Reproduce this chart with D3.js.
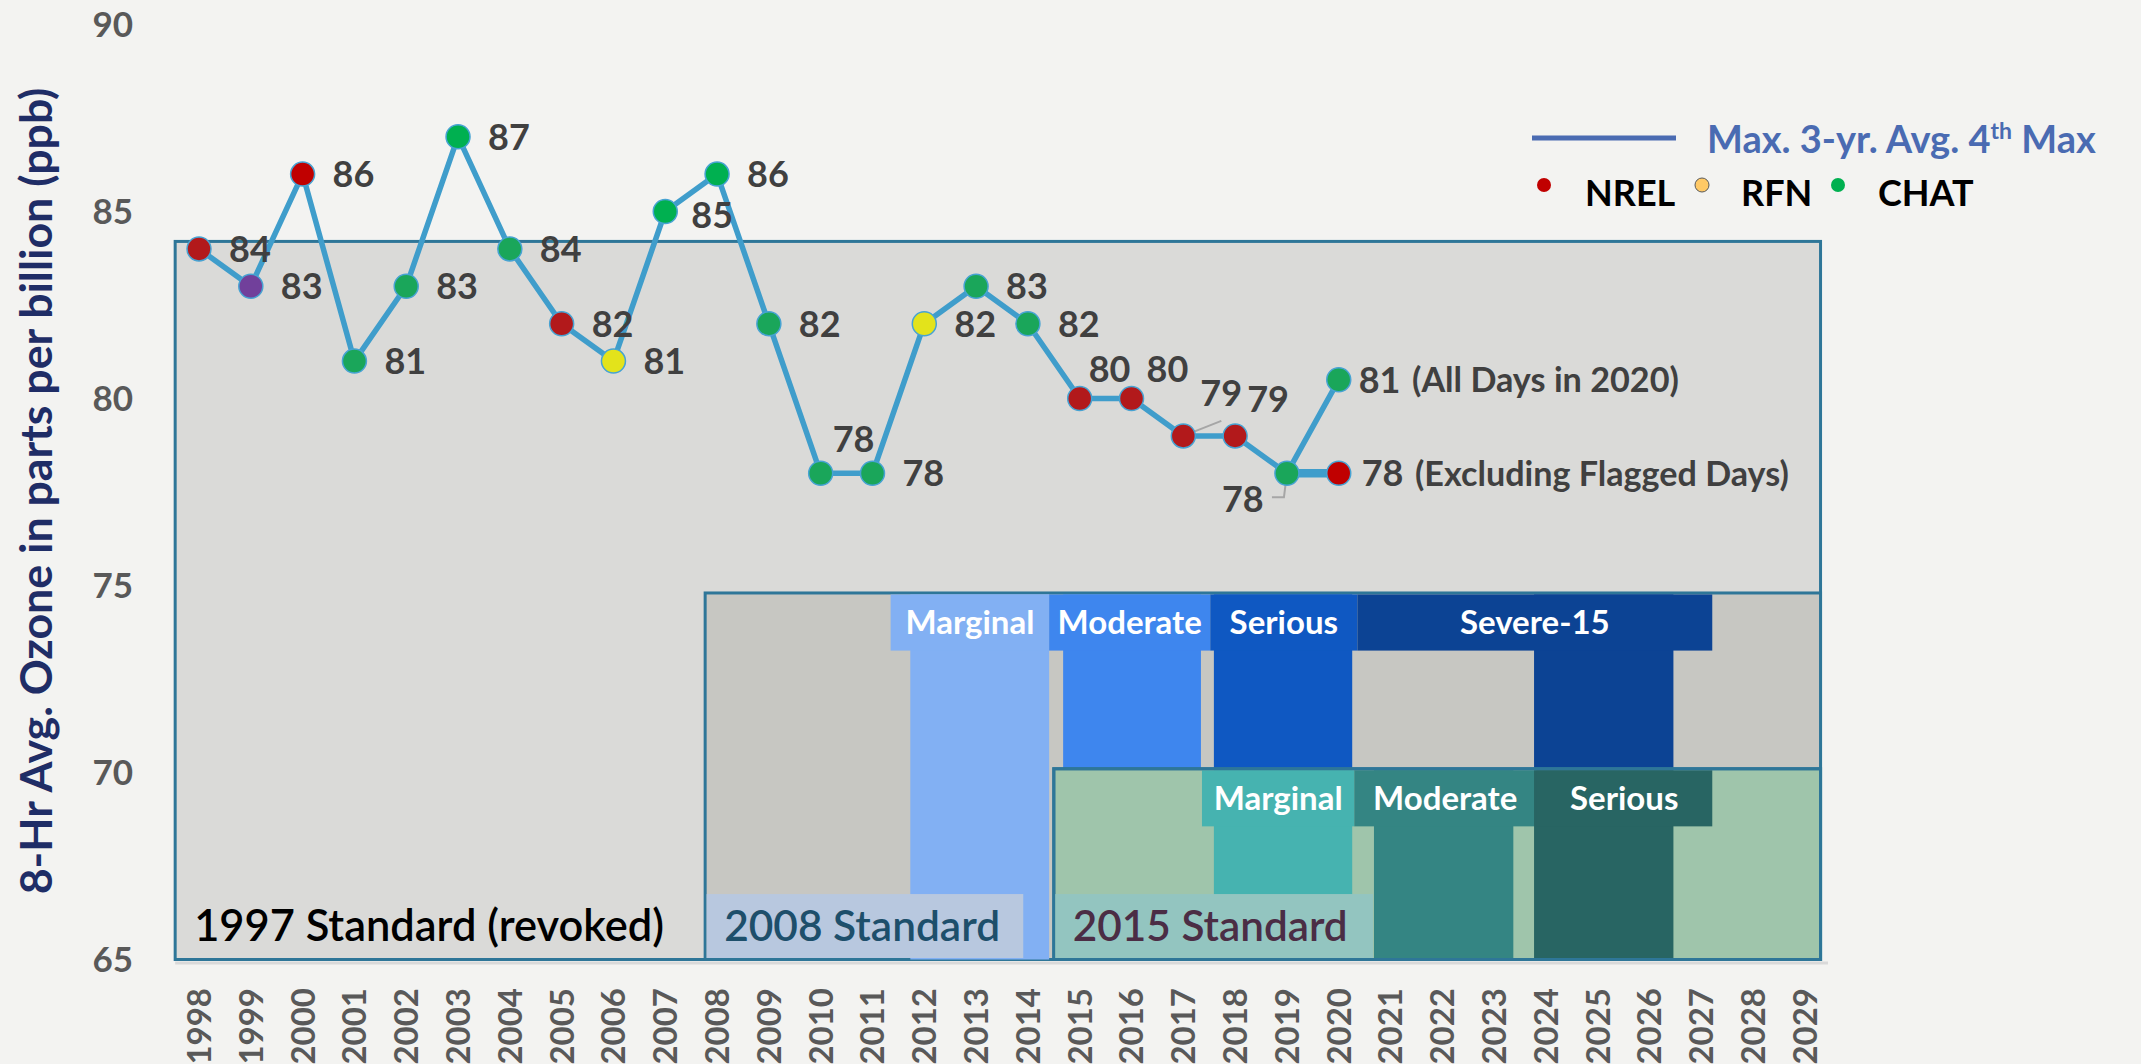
<!DOCTYPE html>
<html>
<head>
<meta charset="utf-8">
<script src="https://cdn.jsdelivr.net/npm/d3@7"></script>
<style>
  html, body { margin: 0; padding: 0; background: #f3f3f1; }
  svg { display: block; font-family: Lato, "Open Sans", sans-serif; }
</style>
</head>
<body>
<svg id="chart"></svg>
<script>
// years on the x axis
const years = [1998, 1999, 2000, 2001, 2002, 2003, 2004, 2005, 2006, 2007, 2008, 2009, 2010,
    2011, 2012, 2013, 2014, 2015, 2016, 2017, 2018, 2019, 2020, 2021, 2022, 2023, 2024, 2025,
    2026, 2027, 2028, 2029];
const yTicks = [65, 70, 75, 80, 85, 90];

// design values (max 3-yr avg of 4th max), ppb
const ozoneYears = [1998, 1999, 2000, 2001, 2002, 2003, 2004, 2005, 2006, 2007, 2008, 2009,
    2010, 2011, 2012, 2013, 2014, 2015, 2016, 2017, 2018, 2019, 2020];
const ozone = [84, 83, 86, 81, 83, 87, 84, 82, 81, 85, 86, 82, 78, 78, 82, 83, 82, 80, 80, 79, 79, 78, 80.5];
const ozoneLabels = ["84", "83", "86", "81", "83", "87", "84", "82", "81", "85", "86", "82", "78",
    "78", "82", "83", "82", "80", "80", "79", "79", "78", "81"];
const monitor = ["NREL", "Other", "NREL", "CHAT", "CHAT", "CHAT", "CHAT", "NREL", "RFN", "CHAT",
    "CHAT", "CHAT", "CHAT", "CHAT", "RFN", "CHAT", "CHAT", "NREL", "NREL", "NREL", "NREL", "CHAT", "CHAT"];

// 2020 excluding flagged days
const flaggedYear = 2020;
const flaggedValue = 78;
const flaggedMonitor = "NREL";
const allDaysNote = "(All Days in 2020)";
const flaggedNote = "(Excluding Flagged Days)";

// standards: name, level (ppb), first year in effect (fractional, as drawn)
const standardNames = ["1997 Standard (revoked)", "2008 Standard", "2015 Standard"];
const standardLevels = [84.2, 74.8, 70.1];
const standardStart = [1997.54, 2007.77, 2014.5];
const standardEnd = 2029.3;
const standardLabelEnd = [null, 2013.91, 2020.66];

// nonattainment classifications
const classes2008 = ["Marginal", "Moderate", "Serious", "Severe-15"];
const head2008 = [[2011.35, 2014.41], [2014.41, 2017.52], [2017.52, 2020.36], [2020.36, 2027.21]];
const body2008 = [[2011.73, 2014.41], [2014.68, 2017.34], [2017.59, 2020.26], [2023.77, 2026.46]];
const classes2015 = ["Marginal", "Moderate", "Serious"];
const head2015 = [[2017.36, 2020.3], [2020.3, 2023.81], [2023.81, 2027.21]];
const body2015 = [[2017.59, 2020.26], [2020.68, 2023.37], [2023.77, 2026.46]];

const legendSites = ["NREL", "RFN", "CHAT"];

const width = 2141;
const height = 1064;
const border = "#2e7698";
const siteColor = {NREL: "#b2191b", RFN: "#e3e31b", CHAT: "#1aa65a", Other: "#71409b"};
const legendColor = {NREL: "#c00000", RFN: "#ffc966", CHAT: "#00b050"};
const colors2008 = ["#82b0f3", "#3e86ee", "#0f58c2", "#0c4394"];
const colors2015 = ["#46b3b0", "#348583", "#286563"];

const svg = d3.select("#chart")
    .attr("width", width)
    .attr("height", height)
    .style("background", "#f3f3f1");

const x = d3.scalePoint().domain(years).range([199, 1805]);
const xf = yr => x(years[0]) + (yr - years[0]) * x.step();
const y = d3.scaleLinear().domain([65, 90]).range([959.5, 24.5]);

function fitWidth(sel, w) {
    sel.each(function() {
        const len = this.getComputedTextLength();
        const fs = parseFloat(getComputedStyle(this).fontSize);
        d3.select(this).style("font-size", (fs * w / len) + "px");
    });
}

// ---- standard boxes ----
const gStd = svg.append("g");
const stdFill = ["#dadad8", "#c7c7c2", "#9fc5ab"];

function drawBox(i) {
    gStd.append("rect")
        .attr("x", xf(standardStart[i]))
        .attr("y", y(standardLevels[i]))
        .attr("width", xf(standardEnd) - xf(standardStart[i]))
        .attr("height", y(65) - y(standardLevels[i]))
        .attr("fill", stdFill[i])
        .attr("stroke", border)
        .attr("stroke-width", 3);
}

function drawClasses(names, heads, bodies, colors, level, bottomFor) {
    const hh = y(level - 1.5) - y(level);
    names.forEach((name, i) => {
        gStd.append("rect")
            .attr("x", xf(bodies[i][0]))
            .attr("y", y(level) + 1.5)
            .attr("width", xf(bodies[i][1]) - xf(bodies[i][0]))
            .attr("height", y(bottomFor(bodies[i])) - y(level) - 1.5)
            .attr("fill", colors[i]);
        gStd.append("rect")
            .attr("x", xf(heads[i][0]))
            .attr("y", y(level) + 1.5)
            .attr("width", xf(heads[i][1]) - xf(heads[i][0]))
            .attr("height", hh)
            .attr("fill", colors[i]);
        gStd.append("text")
            .attr("x", (xf(heads[i][0]) + xf(heads[i][1])) / 2)
            .attr("y", y(level) + 1.5 + hh / 2)
            .attr("dy", "0.36em")
            .attr("text-anchor", "middle")
            .attr("fill", "white")
            .style("font-size", "33px")
            .style("font-weight", 700)
            .text(name);
    });
}

drawBox(0);
drawBox(1);
drawClasses(classes2008, head2008, body2008, colors2008, standardLevels[1],
    b => b[1] <= standardStart[2] ? 65 : standardLevels[2]);
drawBox(2);
drawClasses(classes2015, head2015, body2015, colors2015, standardLevels[2], () => 65);

// redraw 2015 box border on top of its bars
gStd.append("rect")
    .attr("x", xf(standardStart[2]))
    .attr("y", y(standardLevels[2]))
    .attr("width", xf(standardEnd) - xf(standardStart[2]))
    .attr("height", y(65) - y(standardLevels[2]))
    .attr("fill", "none")
    .attr("stroke", border)
    .attr("stroke-width", 3);

// standard name labels
const labelBg = [null, "#b8c8df", "#93c5c0"];
const labelInk = ["#000000", "#1d4f6b", "#4b2d45"];
const labelWidth = [470, 276, 275];
standardNames.forEach((name, i) => {
    if (labelBg[i]) {
        gStd.append("rect")
            .attr("x", xf(standardStart[i]) + 1.5)
            .attr("y", y(66.75))
            .attr("width", xf(standardLabelEnd[i]) - xf(standardStart[i]) - 1.5)
            .attr("height", y(65) - y(66.75) - 1.5)
            .attr("fill", labelBg[i]);
    }
    gStd.append("text")
        .attr("x", xf(standardStart[i]) + 19)
        .attr("y", 941)
        .attr("fill", labelInk[i])
        .style("font-size", "38px")
        .style("font-weight", 600)
        .text(name)
        .call(fitWidth, labelWidth[i]);
});

// axis base line
svg.append("line")
    .attr("x1", xf(standardStart[0])).attr("x2", 1828)
    .attr("y1", 963).attr("y2", 963)
    .attr("stroke", "#d9d9d9")
    .attr("stroke-width", 3);

// ---- axes ----
svg.append("g").selectAll("text")
    .data(yTicks)
    .join("text")
    .attr("x", 133)
    .attr("y", d => y(d))
    .attr("dy", "0.36em")
    .attr("text-anchor", "end")
    .attr("fill", "#595959")
    .style("font-size", "35px")
    .style("font-weight", 700)
    .text(d => d);

svg.append("g").selectAll("text")
    .data(years)
    .join("text")
    .attr("transform", d => `translate(${x(d)},988) rotate(-90)`)
    .attr("dy", "0.36em")
    .attr("text-anchor", "end")
    .attr("fill", "#595959")
    .style("font-size", "33px")
    .style("font-weight", 700)
    .text(d => d);

svg.append("text")
    .attr("transform", "translate(52,491) rotate(-90)")
    .attr("text-anchor", "middle")
    .attr("fill", "#1f2d66")
    .style("font-size", "38px")
    .style("font-weight", 700)
    .text("8-Hr Avg. Ozone in parts per billion (ppb)")
    .call(fitWidth, 807);

// ---- series ----
const series = ozoneYears.map((yr, i) => ({year: yr, value: ozone[i], label: ozoneLabels[i], site: monitor[i]}));
const flagged = {year: flaggedYear, value: flaggedValue, label: String(flaggedValue), site: flaggedMonitor};
const prev = series[series.length - 2];

const gLine = svg.append("g")
    .attr("fill", "none")
    .attr("stroke", "#3f9dcb")
    .attr("stroke-linejoin", "round");

gLine.append("path")
    .attr("stroke-width", 5.5)
    .attr("d", d3.line().x(d => x(d.year)).y(d => y(d.value))(series));

gLine.append("path")
    .attr("stroke-width", 8.5)
    .attr("d", d3.line().x(d => x(d.year)).y(d => y(d.value))([prev, flagged]));

// leader lines for crowded labels
const leaders = {2017: [[0, 0], [38, -15]], 2019: [[0, 0], [-3, 24], [-15, 24]]};
Object.keys(leaders).forEach(yr => {
    const d = series.find(s => s.year === +yr);
    svg.append("path")
        .attr("fill", "none")
        .attr("stroke", "#a6a6a6")
        .attr("stroke-width", 2)
        .attr("d", d3.line()(leaders[yr].map(p => [x(d.year) + p[0], y(d.value) + p[1]])));
});

const pointColor = d => {
    if (d.site === "NREL" && d.year === 2000) return "#c00000";
    if (d.site === "CHAT" && [2003, 2007, 2008].includes(d.year)) return "#00b050";
    return siteColor[d.site];
};

svg.append("g").selectAll("circle")
    .data(series.concat([flagged]))
    .join("circle")
    .attr("cx", d => x(d.year))
    .attr("cy", d => y(d.value))
    .attr("r", 12)
    .attr("fill", d => d === flagged ? "#c00000" : pointColor(d))
    .attr("stroke", "#47a3d3")
    .attr("stroke-width", 1.5);

// data labels: default to the right, a few moved to avoid overlaps
const labelOffset = {
    2007: [26, 4], 2010: [12, -34], 2015: [9, -29], 2016: [15, -29],
    2017: [17, -43], 2018: [12, -37], 2019: [-65, 26], 2020: [20, 0]
};
const gLab = svg.append("g")
    .attr("fill", "#404040")
    .style("font-size", "36px")
    .style("font-weight", 700);

series.forEach(d => {
    const off = labelOffset[d.year] || [30, 0];
    gLab.append("text")
        .attr("x", x(d.year) + off[0])
        .attr("y", y(d.value) + off[1])
        .attr("dy", "0.36em")
        .text(d.label);
});
gLab.append("text")
    .attr("x", x(flagged.year) + 23)
    .attr("y", y(flagged.value))
    .attr("dy", "0.36em")
    .text(flagged.label);

gLab.append("text")
    .attr("x", 1412)
    .attr("y", y(ozone[ozone.length - 1]))
    .attr("dy", "0.36em")
    .style("font-size", "29px")
    .text(allDaysNote)
    .call(fitWidth, 267);
gLab.append("text")
    .attr("x", 1415)
    .attr("y", y(flaggedValue))
    .attr("dy", "0.36em")
    .style("font-size", "29px")
    .text(flaggedNote)
    .call(fitWidth, 374);

// ---- legend ----
const gLeg = svg.append("g");
gLeg.append("line")
    .attr("x1", 1532).attr("x2", 1676)
    .attr("y1", 138).attr("y2", 138)
    .attr("stroke", "#4a6bb2")
    .attr("stroke-width", 5);
const legTitle = gLeg.append("text")
    .attr("x", 1707)
    .attr("y", 153)
    .attr("fill", "#4a6bb2")
    .style("font-size", "38px")
    .style("font-weight", 700);
legTitle.append("tspan").text("Max. 3-yr. Avg. 4");
legTitle.append("tspan").attr("dy", -14).style("font-size", "23px").text("th");
legTitle.append("tspan").attr("dy", 14).text(" Max");

const legX = [1544, 1702, 1838];
const legTextX = [1585, 1741, 1878];
legendSites.forEach((s, i) => {
    gLeg.append("circle")
        .attr("cx", legX[i])
        .attr("cy", 185)
        .attr("r", 7)
        .attr("fill", legendColor[s])
        .attr("stroke", s === "RFN" ? "#595959" : "none")
        .attr("stroke-width", 1);
    gLeg.append("text")
        .attr("x", legTextX[i])
        .attr("y", 206)
        .attr("fill", "#000")
        .style("font-size", "36px")
        .style("font-weight", 700)
        .text(s);
});
</script>
</body>
</html>
